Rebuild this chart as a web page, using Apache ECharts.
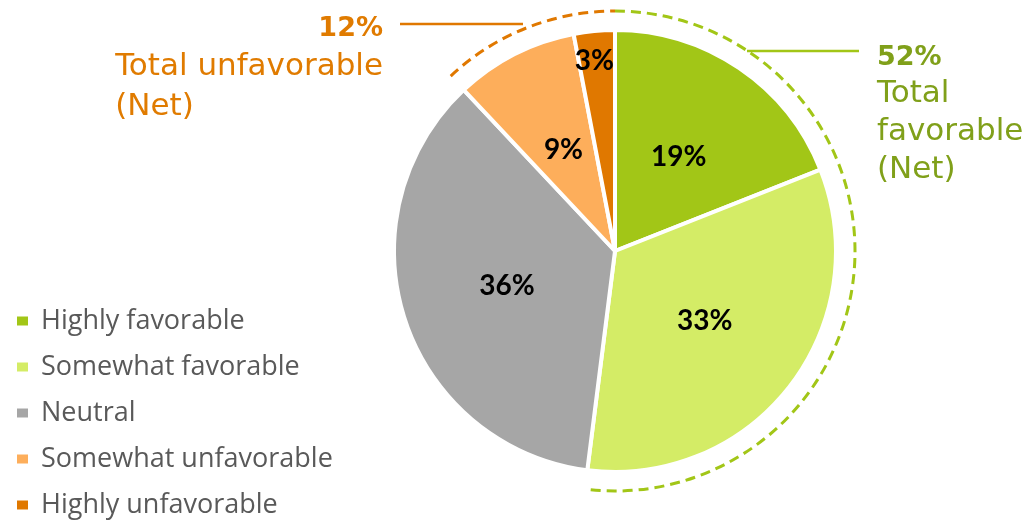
<!DOCTYPE html>
<html>
<head>
<meta charset="utf-8">
<script src="https://cdn.jsdelivr.net/npm/echarts@6/dist/echarts.min.js"></script>
<style>
  html, body { margin: 0; padding: 0; background: #fff; }
  #chart { width: 1031px; height: 520px; }
</style>
</head>
<body>
<div id="chart"></div>
<script>
// dados do grafico
const categorias = ["Highly favorable", "Somewhat favorable", "Neutral", "Somewhat unfavorable", "Highly unfavorable"];
const valores = [19, 33, 36, 9, 3];
const cores = ["#A2C617", "#D4EC66", "#A6A6A6", "#FDAE5B", "#E07800"];

const totalFavoravel = valores[0] + valores[1];
const totalDesfavoravel = valores[3] + valores[4];

const verde = "#80A01A";
const laranja = "#E07B00";
const fonteNet = "DejaVu Sans";

const chart = echarts.init(document.getElementById("chart"));

const dadosPizza = categorias.map((nome, i) => {
  const item = { name: nome, value: valores[i], itemStyle: { color: cores[i] } };
  // o rotulo de 3% fica mais para fora na fatia estreita
  if (i === 4) item.label = { offset: [-10, -77] };
  return item;
});

const option = {
  animation: false,
  legend: {
    orient: "vertical",
    left: 15,
    top: 307,
    padding: 0,
    icon: "rect",
    itemWidth: 13,
    itemHeight: 11,
    itemGap: 18,
    data: categorias,
    textStyle: { color: "#595959", fontSize: 27, fontFamily: "Open Sans", lineHeight: 28, padding: [0, 0, 0, 7] }
  },
  polar: { center: [615, 251], radius: 240 },
  angleAxis: { type: "value", min: 0, max: 100, startAngle: 90, clockwise: true, show: false },
  radiusAxis: { type: "value", min: 0, max: 1, show: false },
  series: [
    {
      type: "pie",
      center: [615, 251],
      radius: [0, 221],
      startAngle: 90,
      clockwise: true,
      silent: true,
      itemStyle: { borderColor: "#fff", borderWidth: 4 },
      label: {
        show: true,
        position: "inside",
        formatter: "{c}%",
        color: "#000",
        fontSize: 28,
        fontWeight: "bold",
        fontFamily: "Lato"
      },
      labelLine: { show: false },
      data: dadosPizza
    },
    {
      // arcos tracejados dos totais
      type: "custom",
      coordinateSystem: "polar",
      silent: true,
      data: [[0, totalFavoravel, 0], [100 - totalDesfavoravel, 100, 1]],
      renderItem: function (params, api) {
        const cs = params.coordSys;
        const a0 = -Math.PI / 2 + api.value(0) / 100 * Math.PI * 2;
        const a1 = -Math.PI / 2 + api.value(1) / 100 * Math.PI * 2;
        return {
          type: "arc",
          shape: { cx: cs.cx, cy: cs.cy, r: cs.r, startAngle: a0, endAngle: a1, clockwise: true },
          style: {
            fill: null,
            stroke: api.value(2) === 0 ? "#A2C617" : "#E07800",
            lineWidth: 3,
            lineDash: [10, 6]
          }
        };
      }
    }
  ],
  graphic: [
    { type: "line", shape: { x1: 747, y1: 51, x2: 859, y2: 51 }, style: { stroke: "#A2C617", lineWidth: 2.5 } },
    { type: "line", shape: { x1: 400, y1: 24, x2: 523, y2: 24 }, style: { stroke: "#E07800", lineWidth: 2.5 } },

    { type: "text", left: 877, top: 44, style: { text: totalFavoravel + "%", fill: verde, font: "bold 27px " + fonteNet } },
    { type: "text", left: 877, top: 75, style: { text: "Total\nfavorable\n(Net)", fill: verde, font: "31px " + fonteNet, lineHeight: 38 } },

    { type: "text", right: 1031 - 383, top: 15, style: { text: totalDesfavoravel + "%", fill: laranja, font: "bold 27px " + fonteNet, align: "right" } },
    { type: "text", right: 1031 - 383, top: 47, style: { text: "Total unfavorable\n(Net)", fill: laranja, font: "31px " + fonteNet, lineHeight: 40, align: "right" } }
  ]
};

chart.setOption(option);
</script>
</body>
</html>
